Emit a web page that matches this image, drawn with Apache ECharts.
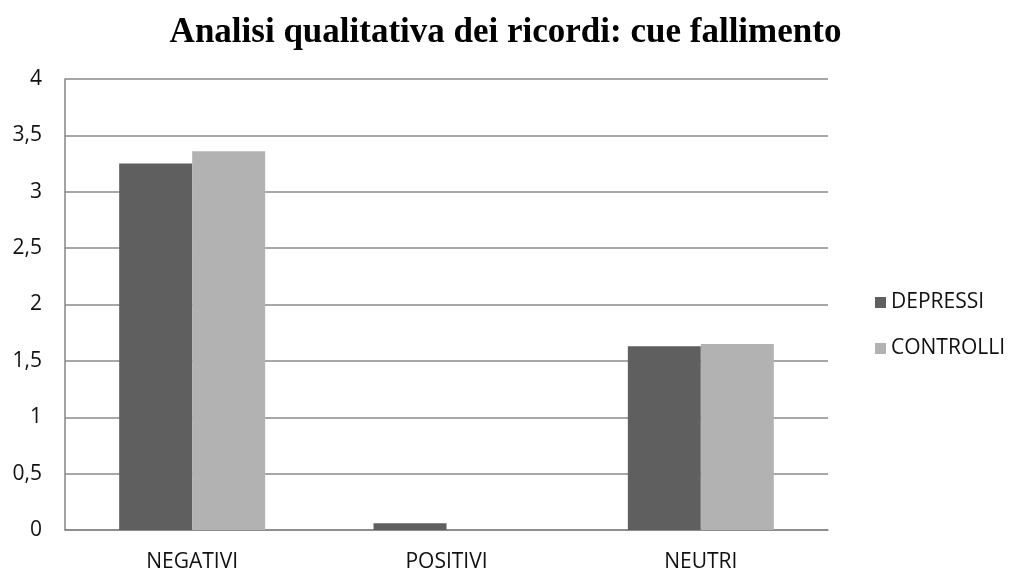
<!DOCTYPE html>
<html>
<head>
<meta charset="utf-8">
<script src="https://cdn.jsdelivr.net/npm/echarts@6/dist/echarts.min.js"></script>
<style>
  html, body { margin: 0; padding: 0; background: #fff; }
  #chart { width: 1011px; height: 574px; }
</style>
</head>
<body>
<div id="chart"></div>
<script>
var categories = ['NEGATIVI', 'POSITIVI', 'NEUTRI']
var depressi = [3.25, 0.06, 1.63]
var controlli = [3.36, 0, 1.65]
var yTicks = ['0', '0,5', '1', '1,5', '2', '2,5', '3', '3,5', '4']

var labelFont = '"Open Sans", Lato, sans-serif'

var chart = echarts.init(document.getElementById('chart'))
chart.setOption({
  animation: false,
  title: {
    text: 'Analisi qualitativa dei ricordi: cue fallimento',
    left: 'center',
    top: 10,
    textStyle: {
      fontFamily: '"Liberation Serif", "DejaVu Serif", serif',
      fontWeight: 'bold',
      fontSize: 35,
      color: '#000'
    }
  },
  legend: {
    orient: 'vertical',
    left: 870,
    top: 287,
    itemWidth: 11,
    itemHeight: 11,
    itemGap: 25,
    icon: 'rect',
    textStyle: { fontFamily: labelFont, fontSize: 21, color: '#111' },
    data: ['DEPRESSI', 'CONTROLLI']
  },
  grid: { left: 65, right: 183, top: 79, bottom: 44, containLabel: false },
  xAxis: {
    type: 'category',
    data: categories,
    axisLine: { lineStyle: { color: '#868686', width: 1.5 } },
    axisTick: { show: false },
    axisLabel: { fontFamily: labelFont, fontSize: 21, color: '#111', margin: 22 }
  },
  yAxis: {
    type: 'value',
    min: 0,
    max: 4,
    interval: 0.5,
    axisLine: { show: true, lineStyle: { color: '#868686', width: 1.5 } },
    axisTick: { show: false },
    splitLine: { lineStyle: { color: '#8a8a8a', width: 1.5 } },
    axisLabel: {
      fontFamily: labelFont,
      fontSize: 21,
      color: '#111',
      margin: 23,
      formatter: function (v) { return yTicks[Math.round(v / 0.5)] }
    }
  },
  series: [
    {
      name: 'DEPRESSI',
      type: 'bar',
      data: depressi,
      itemStyle: { color: '#5f5f5f' },
      barGap: '0%',
      barCategoryGap: '42.6%'
    },
    {
      name: 'CONTROLLI',
      type: 'bar',
      data: controlli,
      itemStyle: { color: '#b2b2b2' },
      barGap: '0%',
      barCategoryGap: '42.6%'
    }
  ]
})
</script>
</body>
</html>
